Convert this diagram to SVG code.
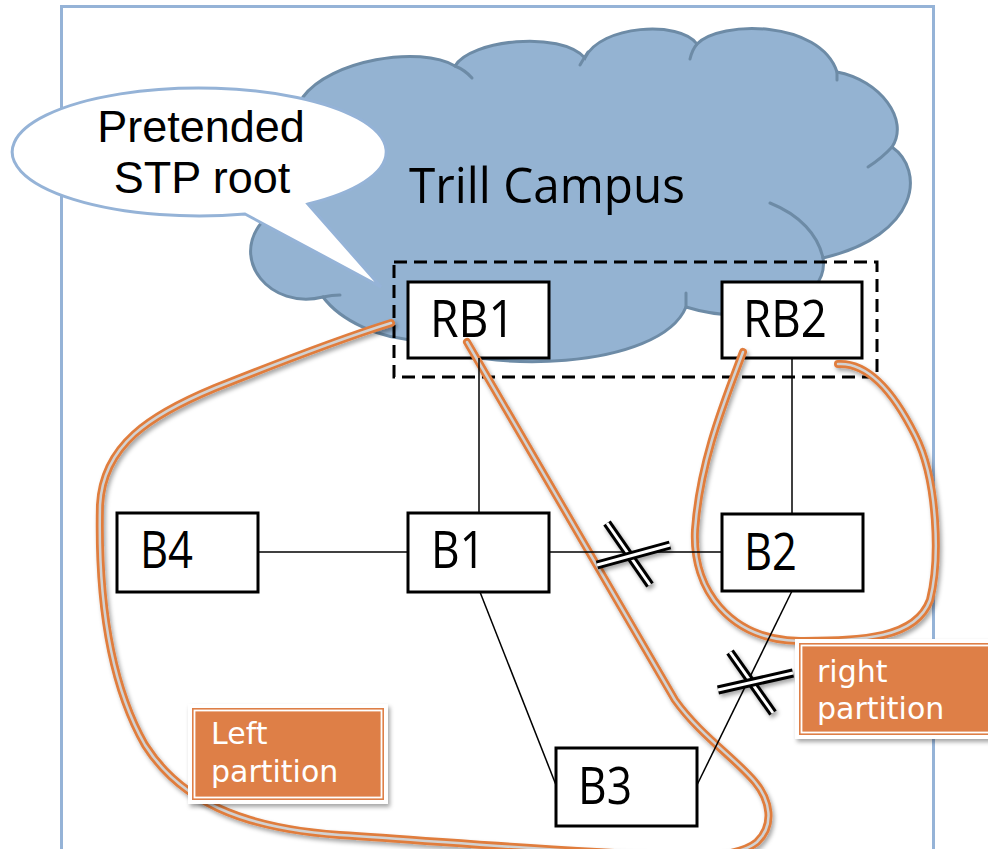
<svg xmlns="http://www.w3.org/2000/svg" width="988" height="849" viewBox="0 0 988 849">
<defs>
<style>
.box{fill:#fff;stroke:#000;stroke-width:3}
.lbl{font-family:"Open Sans","Noto Sans",sans-serif;font-size:52px;fill:#000}
.big{font-family:"Open Sans","Noto Sans",sans-serif;fill:#000}
.cal{font-family:"Liberation Sans",Arial,sans-serif;font-size:45px;fill:#000}
.wt{font-family:"DejaVu Sans",sans-serif;font-size:30px;fill:#fff}
.conn{stroke:#000;stroke-width:1.5;fill:none}
.cl{fill:none;stroke:#6d8ba6;stroke-width:3;stroke-linecap:round}
.po{fill:none;stroke:#e07d3e;stroke-width:8;stroke-linecap:round;stroke-linejoin:round}
.pi{fill:none;stroke:#d2d2d2;stroke-width:2.5;stroke-linecap:round;stroke-linejoin:round}
.xb{stroke:#000;stroke-width:9;fill:none}
.xw{stroke:#fff;stroke-width:3;fill:none}
.tag{fill:#de7f47;stroke:#fff;stroke-width:4}
.tagi{fill:none;stroke:#fff;stroke-width:1.8}
</style>
<filter id="sh" x="-20%" y="-20%" width="140%" height="140%">
<feDropShadow dx="2" dy="3" stdDeviation="2" flood-color="#000" flood-opacity="0.35"/>
</filter>
</defs>
<rect width="988" height="849" fill="#fff"/>
<rect id="frame" x="61.5" y="6.5" width="872" height="870" fill="none" stroke="#95b3d7" stroke-width="3"/>

<g id="cloud">
<path d="M262,222 C270,170 280,120 303,97 C330,60 420,45 455,66 C470,40 560,30 585,58 C600,25 680,20 697,44 C720,20 820,20 837,72 C880,80 910,120 892,147 C925,170 920,235 823,258 C830,300 760,330 686,307 C660,370 480,375 420,340 C380,340 340,320 323,297 C270,310 230,260 262,222 Z" fill="#94b3d2" stroke="#6d8ba6" stroke-width="3"/>
<path class="cl" d="M455,66 Q465,70 472,78"/>
<path class="cl" d="M588,52 Q584,58 580,65"/>
<path class="cl" d="M697,44 Q692,50 690,59"/>
<path class="cl" d="M837,72 L837,80"/>
<path class="cl" d="M892,147 Q882,158 868,167"/>
<path class="cl" d="M823,258 C818,235 800,215 770,203"/>
<path class="cl" d="M686,307 L686,293"/>
<path class="cl" d="M323,297 Q332,295 340,295"/>
<text class="big" x="409" y="203" font-size="50" textLength="276" lengthAdjust="spacingAndGlyphs">Trill Campus</text>
</g>

<g id="callout">
<path d="M245,214 L381,287 L308,204 A187,64 0 1 0 245,214 Z" fill="#fff" stroke="#95b3d7" stroke-width="3" stroke-linejoin="miter"/>
<text class="cal" text-anchor="middle" x="201" y="142">Pretended</text>
<text class="cal" text-anchor="middle" x="202" y="193">STP root</text>
</g>

<g id="rbgroup">
<rect x="394" y="262" width="483" height="115" fill="none" stroke="#000" stroke-width="3" stroke-dasharray="13 7"/>
</g>

<g id="RB1"><rect class="box" x="408" y="282" width="141" height="76"/><text class="lbl" x="430" y="337" textLength="85" lengthAdjust="spacingAndGlyphs">RB1</text></g>
<g id="RB2"><rect class="box" x="722" y="282" width="140" height="76"/><text class="lbl" x="743" y="337" textLength="84" lengthAdjust="spacingAndGlyphs">RB2</text></g>
<g id="B4"><rect class="box" x="117" y="513" width="141" height="79"/><text class="lbl" x="140" y="568" textLength="53" lengthAdjust="spacingAndGlyphs">B4</text></g>
<g id="B1"><rect class="box" x="408" y="513" width="141" height="79"/><text class="lbl" x="431" y="568" textLength="54" lengthAdjust="spacingAndGlyphs">B1</text></g>
<g id="B2"><rect class="box" x="722" y="514" width="141" height="77"/><text class="lbl" x="744" y="570" textLength="53" lengthAdjust="spacingAndGlyphs">B2</text></g>
<g id="B3"><rect class="box" x="556" y="748" width="141" height="78"/><text class="lbl" x="578" y="804" textLength="54" lengthAdjust="spacingAndGlyphs">B3</text></g>

<g id="partitions" filter="url(#sh)">
<path class="po" d="M391,323 C330,342 260,370 215,388 C150,415 103,445 100,505 C98,590 108,680 145,745 C180,800 240,828 340,835 C450,842 560,852 680,856 C720,857 745,852 757,842 C775,825 770,800 755,782 C735,758 700,735 675,700 L467,342"/>
<path class="pi" d="M391,323 C330,342 260,370 215,388 C150,415 103,445 100,505 C98,590 108,680 145,745 C180,800 240,828 340,835 C450,842 560,852 680,856 C720,857 745,852 757,842 C775,825 770,800 755,782 C735,758 700,735 675,700 L467,342"/>
<path class="po" d="M743,352 C725,400 700,460 695,530 C692,590 730,640 800,641 C860,640 915,640 930,600 C940,560 938,480 915,435 C895,395 870,362 838,364"/>
<path class="pi" d="M743,352 C725,400 700,460 695,530 C692,590 730,640 800,641 C860,640 915,640 930,600 C940,560 938,480 915,435 C895,395 870,362 838,364"/>
</g>

<g id="connectors">
<line class="conn" x1="479" y1="358" x2="479" y2="513"/>
<line class="conn" x1="792" y1="358" x2="792" y2="514"/>
<line class="conn" x1="258" y1="552" x2="408" y2="552"/>
<line class="conn" x1="549" y1="552" x2="722" y2="552"/>
<line class="conn" x1="480" y1="592" x2="556" y2="785"/>
<line class="conn" x1="792" y1="591" x2="697" y2="785"/>
</g>

<g id="breaks" filter="url(#sh)">
<line class="xb" x1="607" y1="523" x2="650" y2="585"/>
<line class="xw" x1="607" y1="523" x2="650" y2="585"/>
<line class="xb" x1="597" y1="565" x2="670" y2="545"/>
<line class="xw" x1="597" y1="565" x2="670" y2="545"/>
<line class="xb" x1="730" y1="652" x2="773" y2="713"/>
<line class="xw" x1="730" y1="652" x2="773" y2="713"/>
<line class="xb" x1="718" y1="690" x2="793" y2="673"/>
<line class="xw" x1="718" y1="690" x2="793" y2="673"/>
</g>

<g id="leftLabel">
<rect class="tag" x="190" y="706" width="196" height="96" filter="url(#sh)"/>
<rect class="tagi" x="194.5" y="710.5" width="187" height="87"/>
<text class="wt" x="211" y="744">Left</text>
<text class="wt" x="211" y="782">partition</text>
</g>

<g id="rightLabel">
<rect class="tag" x="797" y="641" width="210" height="96" filter="url(#sh)"/>
<rect class="tagi" x="801.5" y="645.5" width="210" height="87"/>
<text class="wt" x="817" y="682">right</text>
<text class="wt" x="817" y="719">partition</text>
</g>
</svg>
